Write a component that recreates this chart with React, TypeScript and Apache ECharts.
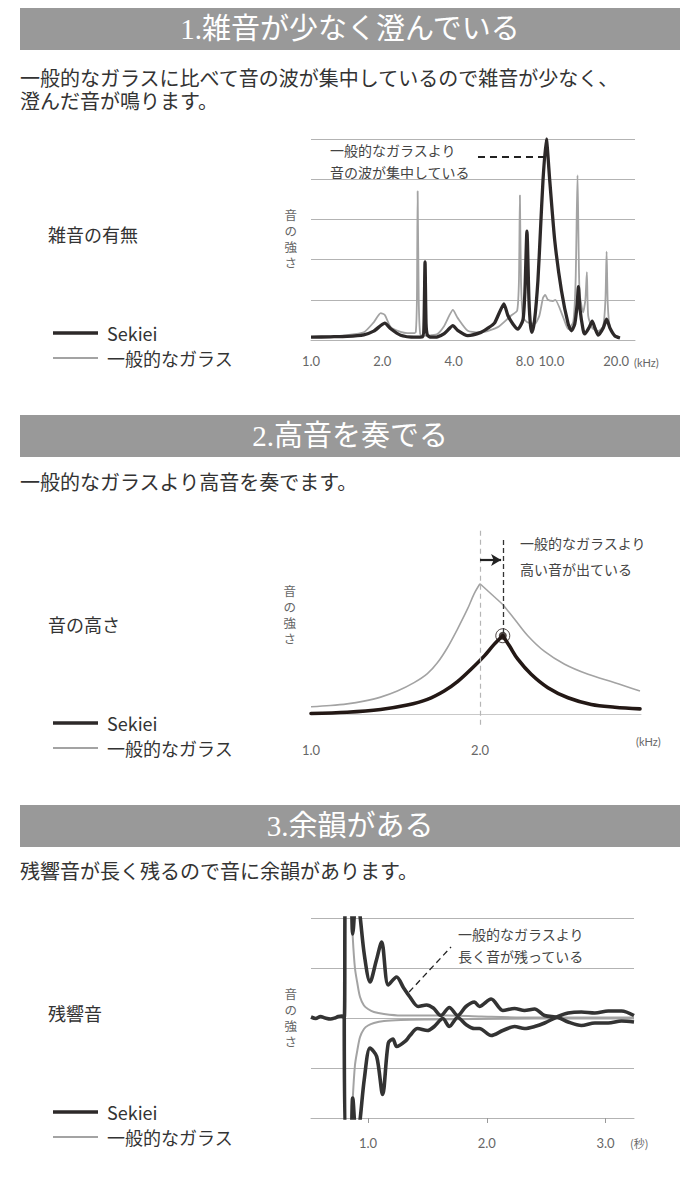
import React, { useEffect, useRef } from "react";
import * as echarts from "echarts";

// ---------- Section 1: 雑音の有無 (frequency kHz, strength) ----------
const noiseSekiei: [number, number][] = [
  [1.0, 0.07], [1.21, 0.08], [1.42, 0.09], [1.67, 0.13], [1.84, 0.22], [1.97, 0.36], [2.05, 0.42],
  [2.17, 0.28], [2.39, 0.12], [2.72, 0.07], [2.96, 0.08], [3.0, 0.4], [3.03, 1.94], [3.06, 0.4],
  [3.1, 0.12], [3.21, 0.07], [3.42, 0.08], [3.65, 0.16], [3.83, 0.28], [3.97, 0.36], [4.16, 0.24],
  [4.59, 0.11], [5.22, 0.19], [5.6, 0.3], [5.95, 0.42], [6.25, 0.69], [6.52, 0.9], [6.78, 0.61],
  [7.12, 0.4], [7.47, 0.27], [7.85, 0.5], [8.0, 1.2], [8.16, 2.71], [8.32, 1.0], [8.45, 0.35],
  [8.57, 0.19], [8.79, 0.5], [9.08, 1.48], [9.3, 2.7], [9.54, 3.98], [9.85, 5.0], [10.18, 3.98],
  [10.69, 2.48], [11.41, 1.23], [12.18, 0.4], [12.58, 0.23], [12.99, 0.4], [13.3, 0.9], [13.46, 1.33],
  [13.65, 0.8], [14.09, 0.25], [14.32, 0.15], [14.9, 0.3], [15.39, 0.47], [15.8, 0.3], [16.31, 0.12],
  [17.13, 0.3], [17.7, 0.52], [18.28, 0.3], [19.2, 0.1], [20.16, 0.05],
];
const noiseGlass: [number, number][] = [
  [1.0, 0.08], [1.21, 0.09], [1.42, 0.12], [1.67, 0.19], [1.84, 0.44], [1.97, 0.67], [2.05, 0.62],
  [2.17, 0.32], [2.39, 0.2], [2.55, 0.17], [2.72, 0.17], [2.77, 0.2], [2.8, 1.0], [2.82, 3.7],
  [2.85, 1.0], [2.89, 0.15], [2.96, 0.1], [3.21, 0.12], [3.42, 0.15], [3.65, 0.35], [3.83, 0.6],
  [3.97, 0.75], [4.16, 0.55], [4.59, 0.23], [5.22, 0.19], [6.15, 0.32], [7.0, 0.61], [7.42, 0.73],
  [7.55, 1.5], [7.62, 3.6], [7.7, 1.5], [7.85, 0.57], [8.16, 0.45], [8.79, 0.4], [9.2, 0.6],
  [9.54, 1.05], [9.75, 1.12], [10.0, 1.0], [10.5, 0.97], [10.75, 1.0], [11.6, 0.57], [12.18, 0.27],
  [12.8, 0.45], [13.1, 1.5], [13.34, 4.1], [13.6, 1.2], [14.09, 0.69], [14.4, 1.0], [14.61, 1.69],
  [14.8, 0.6], [15.39, 0.3], [16.31, 0.22], [17.13, 0.35], [17.5, 1.0], [17.7, 2.2], [17.9, 0.9],
  [18.28, 0.3], [19.2, 0.1], [20.0, 0.06],
];
const noiseTicksKHz = [1, 2, 4, 8, 10, 20];
const noiseDash: [number, number][] = [[5.07, 4.55], [9.73, 4.55]];

// ---------- Section 2: 音の高さ (frequency kHz, strength) ----------
const pitchGlass: [number, number][] = [
  [1.0, 0.37], [1.115, 0.43], [1.214, 0.51], [1.313, 0.64], [1.412, 0.83], [1.511, 1.12], [1.61, 1.52],
  [1.689, 1.95], [1.749, 2.48], [1.808, 3.2], [1.867, 4.08], [1.927, 5.05], [1.966, 5.77], [2.0, 6.24],
  [2.135, 5.25], [2.204, 4.56], [2.283, 3.76], [2.382, 3.01], [2.501, 2.4], [2.64, 1.92], [2.798, 1.52],
  [2.947, 1.12],
];
const pitchSekiei: [number, number][] = [
  [1.0, 0.05], [1.214, 0.11], [1.412, 0.24], [1.57, 0.45], [1.689, 0.72], [1.788, 1.12], [1.867, 1.57],
  [1.947, 2.16], [2.026, 2.8], [2.085, 3.36], [2.135, 3.76], [2.174, 3.28], [2.224, 2.64], [2.303, 1.92],
  [2.402, 1.28], [2.521, 0.8], [2.659, 0.48], [2.798, 0.35], [2.947, 0.27],
];
const pitchTicks = [1, 2];
const pitchGlassPeakX = 2.0;
const pitchSekieiPeak: [number, number] = [2.135, 3.76];
const pitchArrowY = 7.38;

// ---------- Section 3: 残響音 (time s, amplitude) ----------
const decaySekieiUpper: [number, number][] = [
  [0.52, 0.02], [0.56, -0.01], [0.6, 0.03], [0.64, 0.0], [0.685, -0.02], [0.72, 0.0], [0.75, 0.03],
  [0.78, 0.04], [0.8, 0.01], [0.811, 2.6], [0.85, 2.6], [0.871, 1.68], [0.905, 2.6], [0.935, 2.0],
  [0.97, 1.25], [1.017, 0.72], [1.07, 1.15], [1.115, 1.52], [1.171, 0.66], [1.241, 0.82], [1.3, 0.6],
  [1.353, 0.42], [1.423, 0.23], [1.493, 0.26], [1.55, 0.2], [1.614, 0.05], [1.685, 0.21], [1.755, 0.05],
  [1.825, 0.23], [1.896, 0.32], [1.938, 0.23], [2.037, 0.38], [2.135, 0.15], [2.234, 0.19], [2.318, 0.15],
  [2.403, 0.18], [2.487, 0.05], [2.6, 0.01], [2.685, -0.08], [2.797, -0.15], [2.91, -0.1], [3.023, -0.1],
  [3.135, -0.06], [3.24, -0.08],
];
const decaySekieiLower: [number, number][] = [
  [0.8, 0.01], [0.811, -2.6], [0.85, -2.6], [0.871, -1.6], [0.905, -2.6], [0.935, -2.0], [0.97, -1.2],
  [1.017, -0.6], [1.073, -0.77], [1.123, -1.53], [1.171, -0.5], [1.21, -0.42], [1.241, -0.57],
  [1.32, -0.45], [1.353, -0.35], [1.417, -0.21], [1.501, -0.25], [1.558, -0.17], [1.63, -0.01],
  [1.685, -0.17], [1.755, 0.01], [1.825, -0.13], [1.896, -0.21], [1.938, -0.21], [2.037, -0.35],
  [2.135, -0.25], [2.234, -0.17], [2.318, -0.21], [2.403, -0.17], [2.487, -0.1], [2.6, 0.03],
  [2.685, 0.1], [2.797, 0.12], [2.91, 0.1], [3.023, 0.14], [3.135, 0.14], [3.24, 0.05],
];
const decayGlassUpper: [number, number][] = [
  [0.811, 2.6], [0.86, 2.3], [0.872, 1.6], [0.89, 1.0], [0.91, 0.7], [0.933, 0.42], [0.966, 0.25],
  [1.0, 0.18], [1.05, 0.12], [1.135, 0.08], [1.276, 0.05], [1.445, 0.05], [1.676, 0.05], [1.952, 0.03],
  [2.4, 0.01], [3.24, 0.01],
];
const decayGlassLower: [number, number][] = [
  [0.811, -2.6], [0.86, -2.3], [0.872, -1.6], [0.89, -0.95], [0.91, -0.65], [0.933, -0.38],
  [0.966, -0.22], [1.0, -0.15], [1.05, -0.1], [1.135, -0.06], [1.276, -0.04], [1.5, -0.03],
  [1.9, -0.02], [2.4, -0.01], [3.24, -0.01],
];
const decayTicks = [1, 2, 3];
const decayDash: [number, number][] = [[1.346, 0.52], [1.699, 1.42]];

const SEKIEI = "Sekiei";
const GLASS = "一般的なガラス";
const DARK = "#2d2929";
const GRAY = "#a3a3a3";
const GRID = "#b3b3b3";
const JP = '"Noto Sans CJK JP", "Noto Sans", sans-serif';
const JP_TIGHT = 'Lato, "Noto Sans CJK JP", sans-serif';
const NUM = 'Lato, "Noto Sans", sans-serif';

const log2 = (v: number) => Math.log(v) / Math.LN2;

export default function App() {
  const ref = useRef<HTMLDivElement>(null);

  useEffect(() => {
    document.body.style.margin = "0";
    if (!ref.current) return;
    const chart = echarts.init(ref.current, null, { renderer: "svg" });

    const yName = (pad: number[]) => ({
      name: "音\nの\n強\nさ",
      nameLocation: "middle" as const,
      nameRotate: 0,
      nameTextStyle: { color: "#666", fontSize: 12.5, lineHeight: 16, fontFamily: JP_TIGHT, padding: pad },
    });
    const numLabel = { color: "#666", fontSize: 13, fontFamily: NUM };
    const numRich = {
      l: { color: "#666", fontSize: 13, fontFamily: NUM, padding: [0, 6, 0, 0] },
      r: { color: "#666", fontSize: 13, fontFamily: NUM, padding: [0, 0, 0, 7] },
      n: { color: "#666", fontSize: 13, fontFamily: NUM },
    };

    const header = (y: number, text: string) => [
      { type: "rect", shape: { x: 20, y, width: 660, height: 42 }, style: { fill: "#999999" } },
      {
        type: "text", x: 350, y: y + 21,
        style: {
          text, fill: "#fff", fontSize: 29,
          fontFamily: '"Liberation Serif", "Noto Sans CJK JP", serif',
          align: "center", verticalAlign: "middle",
        },
      },
    ];
    const txt = (x: number, y: number, text: string, size: number, color = "#333", lh?: number, family = JP) => ({
      type: "text", x, y,
      style: { text, fill: color, fontSize: size, fontFamily: family, align: "left", verticalAlign: "middle", lineHeight: lh },
    });
    const legend = (top: number) => ({
      orient: "vertical", left: 48, top, itemWidth: 45, itemHeight: 14, itemGap: 5,
      data: [
        { name: SEKIEI, icon: "path://M0 0H45V3.5H0Z" },
        { name: GLASS, icon: "path://M0 0H45V2H0Z" },
      ],
      selectedMode: false,
      textStyle: { fontSize: 18, color: "#333", fontFamily: JP, lineHeight: 20, padding: [0, 0, 0, 4] },
    });
    const dashLine = (a: [number, number], b: [number, number], color: string, width: number, dash: number[]) => ({
      silent: true, symbol: ["none", "none"], label: { show: false },
      lineStyle: { color, width, type: dash },
      data: [[{ coord: a }, { coord: b }]],
    });

    // split the pitch curves at their peaks so the peaks stay sharp while the flanks are smooth
    const gPeak = pitchGlass.findIndex((p) => p[0] === pitchGlassPeakX);
    const gShoulder = pitchGlass.findIndex((p) => p[0] === pitchSekieiPeak[0]);
    const sPeak = pitchSekiei.findIndex((p) => p[0] === pitchSekieiPeak[0]);
    const glassParts = [pitchGlass.slice(0, gPeak + 1), pitchGlass.slice(gPeak, gShoulder + 1), pitchGlass.slice(gShoulder)];
    const sekieiParts = [pitchSekiei.slice(0, sPeak + 1), pitchSekiei.slice(sPeak)];

    const option: any = {
      animation: false,
      textStyle: { fontFamily: JP },
      legend: [legend(318), legend(708), legend(1097)],
      grid: [
        { left: 311, top: 139, width: 324, height: 201 },
        { left: 311, top: 505, width: 330, height: 220 },
        { left: 311, top: 918, width: 323, height: 200 },
      ],
      xAxis: [
        {
          gridIndex: 0, type: "value", min: 0, max: 4.544,
          axisLine: { lineStyle: { color: GRID } }, axisTick: { show: false }, splitLine: { show: false },
          axisLabel: {
            ...numLabel, margin: 14, rich: numRich,
            customValues: noiseTicksKHz.map(log2),
            formatter: (v: number) => {
              const f = Math.round(Math.pow(2, v));
              const s = f.toFixed(1);
              if (f === 10) return `{r|${s}}`;
              if (f === 20) return `{l|${s}}`;
              return `{n|${s}}`;
            },
          },
        },
        {
          gridIndex: 1, type: "value", min: 1, max: 2.953,
          axisLine: { lineStyle: { color: "#c9c9c9" } }, axisTick: { show: false }, splitLine: { show: false },
          axisLabel: { ...numLabel, margin: 18, customValues: pitchTicks, formatter: (v: number) => v.toFixed(1) },
        },
        {
          gridIndex: 2, type: "value", min: 0.52, max: 3.24,
          axisLine: { onZero: false, lineStyle: { color: GRID } },
          axisTick: { show: true, length: 5, customValues: decayTicks, lineStyle: { color: "#999" } },
          splitLine: { show: false },
          axisLabel: { ...numLabel, margin: 18, customValues: decayTicks, formatter: (v: number) => v.toFixed(1) },
        },
      ],
      yAxis: [
        {
          gridIndex: 0, type: "value", min: 0, max: 5, interval: 1, ...yName([0, 0, 0, 0]), nameGap: 14,
          axisLine: { show: false }, axisTick: { show: false }, axisLabel: { show: false },
          splitLine: { lineStyle: { color: GRID } },
        },
        {
          gridIndex: 1, type: "value", min: -0.5, max: 10, ...yName([0, 0, 9, 0]), nameGap: 15,
          axisLine: { show: false }, axisTick: { show: false }, axisLabel: { show: false },
          splitLine: { show: false },
        },
        {
          gridIndex: 2, type: "value", min: -2, max: 2, interval: 1, ...yName([0, 0, 0, 0]), nameGap: 14,
          axisLine: { show: false }, axisTick: { show: false }, axisLabel: { show: false },
          splitLine: { lineStyle: { color: GRID } },
        },
      ],
      series: [
        // Section 1
        {
          name: GLASS, type: "line", xAxisIndex: 0, yAxisIndex: 0, symbol: "none", smooth: 0.2,
          data: noiseGlass.map(([f, v]) => [log2(f), v]),
          lineStyle: { color: GRAY, width: 1.8 }, itemStyle: { color: GRAY },
        },
        {
          name: SEKIEI, type: "line", xAxisIndex: 0, yAxisIndex: 0, symbol: "none", smooth: 0.2,
          data: noiseSekiei.map(([f, v]) => [log2(f), v]),
          lineStyle: { color: DARK, width: 3.3, join: "round" }, itemStyle: { color: DARK },
          markLine: dashLine(
            [log2(noiseDash[0][0]), noiseDash[0][1]], [log2(noiseDash[1][0]), noiseDash[1][1]],
            "#222", 2, [7, 5]
          ),
        },
        // Section 2
        ...glassParts.map((part, i) => ({
          name: GLASS, type: "line", xAxisIndex: 1, yAxisIndex: 1, symbol: "none", smooth: i === 1 ? false : 0.35,
          data: part, lineStyle: { color: GRAY, width: 1.6 }, itemStyle: { color: GRAY },
          markLine: i === 0
            ? dashLine([pitchGlassPeakX, -0.49], [pitchGlassPeakX, 8.81], "#b5b5b5", 1.2, [5, 4])
            : undefined,
        })),
        ...sekieiParts.map((part, i) => ({
          name: SEKIEI, type: "line", xAxisIndex: 1, yAxisIndex: 1, symbol: "none", smooth: 0.35,
          data: part, lineStyle: { color: "#231815", width: 3.6, join: "round", cap: "round" }, itemStyle: { color: "#231815" },
          markLine: i === 0
            ? {
                silent: true, label: { show: false },
                data: [
                  [
                    { coord: [pitchSekieiPeak[0], 8.33], symbol: "none", lineStyle: { color: "#333", width: 1.3, type: [5, 3] } },
                    { coord: pitchSekieiPeak, symbol: "none" },
                  ],
                  [
                    { coord: [pitchGlassPeakX, pitchArrowY], symbol: "none", lineStyle: { color: "#222", width: 2.2, type: "solid" } },
                    { coord: [pitchSekieiPeak[0] - 0.01, pitchArrowY], symbol: "arrow", symbolSize: [9, 10] },
                  ],
                ],
              }
            : undefined,
        })),
        {
          name: "peakRing", type: "scatter", xAxisIndex: 1, yAxisIndex: 1, silent: true,
          data: [pitchSekieiPeak], symbolSize: 14,
          itemStyle: { color: "#fff", borderColor: "#231815", borderWidth: 1 },
        },
        {
          name: "peakDot", type: "scatter", xAxisIndex: 1, yAxisIndex: 1, silent: true,
          data: [pitchSekieiPeak], symbolSize: 8, itemStyle: { color: "#231815" },
        },
        // Section 3
        {
          name: GLASS, type: "line", xAxisIndex: 2, yAxisIndex: 2, symbol: "none", smooth: 0.3,
          data: decayGlassUpper, lineStyle: { color: GRAY, width: 2 }, itemStyle: { color: GRAY },
        },
        {
          name: GLASS, type: "line", xAxisIndex: 2, yAxisIndex: 2, symbol: "none", smooth: 0.3,
          data: decayGlassLower, lineStyle: { color: GRAY, width: 2 }, itemStyle: { color: GRAY },
        },
        {
          name: SEKIEI, type: "line", xAxisIndex: 2, yAxisIndex: 2, symbol: "none", smooth: 0.3,
          data: decaySekieiUpper, lineStyle: { color: "#333", width: 3.6, join: "round" }, itemStyle: { color: "#333" },
          markLine: dashLine(decayDash[0], decayDash[1], "#222", 1.3, [6, 4]),
        },
        {
          name: SEKIEI, type: "line", xAxisIndex: 2, yAxisIndex: 2, symbol: "none", smooth: 0.3,
          data: decaySekieiLower, lineStyle: { color: "#333", width: 3.6, join: "round" }, itemStyle: { color: "#333" },
        },
      ],
      graphic: [
        ...header(8, "1.雑音が少なく澄んでいる"),
        txt(20, 78, "一般的なガラスに比べて音の波が集中しているので雑音が少なく、", 20, "#333", undefined, JP_TIGHT),
        txt(20, 101, "澄んだ音が鳴ります。", 20, "#333", undefined, JP_TIGHT),
        txt(48, 234, "雑音の有無", 18),
        txt(330, 150, "一般的なガラスより", 14, "#444"),
        txt(330, 172, "音の波が集中している", 14, "#444"),
        { type: "text", x: 634, y: 362, style: { text: "(kHz)", fill: "#666", fontSize: 11, fontFamily: NUM, align: "left", verticalAlign: "middle" } },

        ...header(415, "2.高音を奏でる"),
        txt(20, 481, "一般的なガラスより高音を奏でます。", 20),
        txt(48, 624, "音の高さ", 18),
        txt(520, 543, "一般的なガラスより", 14, "#444"),
        txt(520, 569, "高い音が出ている", 14, "#444"),
        { type: "text", x: 636, y: 741, style: { text: "(kHz)", fill: "#666", fontSize: 11, fontFamily: NUM, align: "left", verticalAlign: "middle" } },

        ...header(805, "3.余韻がある"),
        txt(20, 870, "残響音が長く残るので音に余韻があります。", 20),
        txt(48, 1013, "残響音", 18),
        txt(458, 934, "一般的なガラスより", 14, "#444"),
        txt(458, 956, "長く音が残っている", 14, "#444"),
        { type: "text", x: 630, y: 1143, style: { text: "(秒)", fill: "#666", fontSize: 11, fontFamily: JP, align: "left", verticalAlign: "middle" } },
      ],
    };

    chart.setOption(option);
    return () => chart.dispose();
  }, []);

  return <div ref={ref} style={{ width: 700, height: 1192 }} />;
}
